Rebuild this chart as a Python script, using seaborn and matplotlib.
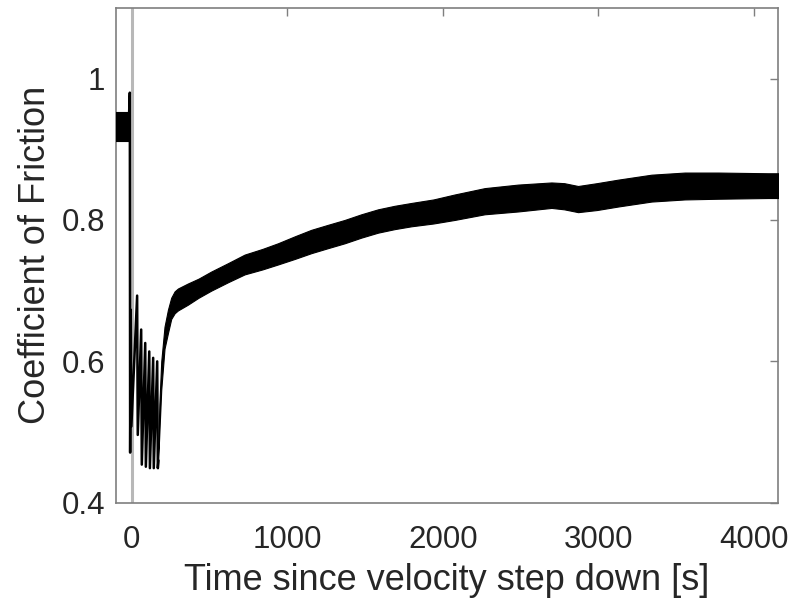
import numpy as np
import pandas as pd
import matplotlib
matplotlib.use("Agg")
import matplotlib.pyplot as plt
import seaborn as sns

# ---- data ----
# steady state before the velocity step (noisy band)
pre_time = [-110, -20]
pre_upper = [0.953, 0.953]
pre_lower = [0.911, 0.911]

# spike and stick-slip oscillations right after the step
osc_time = [-20, -12, -10, -6, -2, 35, 39, 61, 65, 87, 91, 113, 117, 138, 142, 164, 168, 172]
osc_cof = [0.93, 0.98, 0.471, 0.673, 0.508, 0.693, 0.496, 0.645, 0.454, 0.626, 0.451,
           0.614, 0.449, 0.605, 0.449, 0.600, 0.449, 0.46]

# recovery (noisy band envelope)
band_time = [168, 178, 190, 211, 233, 254, 276, 297, 360, 430, 511, 620, 726, 840, 940,
             1050, 1154, 1260, 1369, 1476, 1583, 1690, 1797, 1940, 2076, 2269, 2484,
             2698, 2780, 2869, 2990, 3127, 3341, 3555, 3770, 4091, 4200]
band_upper = [0.46, 0.54, 0.60, 0.649, 0.673, 0.690, 0.699, 0.703, 0.710, 0.717, 0.727,
              0.739, 0.751, 0.759, 0.767, 0.777, 0.786, 0.793, 0.800, 0.808, 0.815, 0.820,
              0.824, 0.829, 0.836, 0.845, 0.850, 0.853, 0.852, 0.848, 0.852, 0.857, 0.864,
              0.867, 0.867, 0.866, 0.866]
band_lower = [0.449, 0.50, 0.56, 0.618, 0.640, 0.660, 0.668, 0.672, 0.680, 0.690, 0.700,
              0.712, 0.723, 0.730, 0.737, 0.745, 0.753, 0.760, 0.767, 0.775, 0.782, 0.787,
              0.791, 0.795, 0.800, 0.808, 0.812, 0.817, 0.815, 0.811, 0.814, 0.819, 0.826,
              0.829, 0.830, 0.831, 0.831]

x_ticks = [0, 1000, 2000, 3000, 4000]
x_tick_labels = ["0", "1000", "2000", "3000", "4000"]
y_ticks = [0.4, 0.6, 0.8, 1.0]
y_tick_labels = ["0.4", "0.6", "0.8", "1"]
x_label = "Time since velocity step down [s]"
y_label = "Coefficient of Friction"

# ---- style ----
sns.set_style("white")
plt.rcParams['font.family'] = ['Liberation Sans', 'DejaVu Sans']

frame_col = '#7f7f7f'
text_col = '#262626'

fig = plt.figure(figsize=(7.9, 6.0), dpi=100)
ax = fig.add_axes([0.147, 0.162, 0.838, 0.825])

ax.axvline(0, color='#b8b8b8', lw=2.2, zorder=1)

ax.fill_between(pre_time, pre_lower, pre_upper, color='black', lw=0.8, zorder=3)
ax.fill_between(band_time, band_lower, band_upper, color='black', lw=0.8, zorder=3)

osc_df = pd.DataFrame({"time": osc_time, "cof": osc_cof})
sns.lineplot(data=osc_df, x="time", y="cof", sort=False, estimator=None,
             color='black', lw=1.8, ax=ax, zorder=4)

ax.set_xlim(-100, 4155)
ax.set_ylim(0.4, 1.1)
ax.set_xticks(x_ticks)
ax.set_xticklabels(x_tick_labels)
ax.set_yticks(y_ticks)
ax.set_yticklabels(y_tick_labels)

ax.tick_params(direction='in', length=6, width=1, top=True, right=True,
               colors=frame_col, labelcolor=text_col, labelsize=22.5)
ax.tick_params(axis='x', pad=16)
ax.tick_params(axis='y', pad=8)
for sp in ax.spines.values():
    sp.set_color(frame_col)
    sp.set_linewidth(1.2)
    sp.set_visible(True)

ax.set_xlabel(x_label, fontsize=26, color=text_col, labelpad=6)
ax.set_ylabel(y_label, fontsize=26, color=text_col, labelpad=6)

fig.savefig("out.png", dpi=100)
